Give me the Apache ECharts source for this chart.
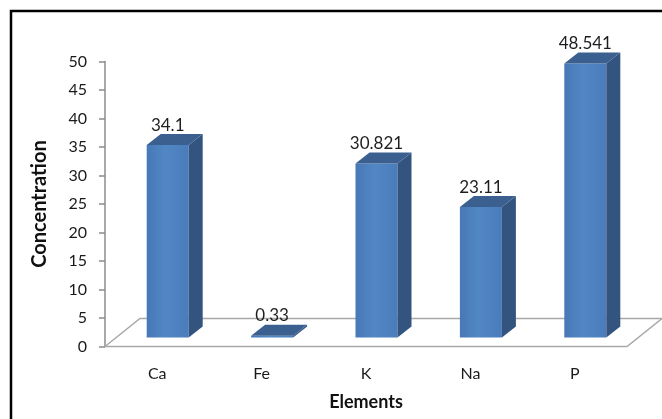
<!DOCTYPE html>
<html>
<head>
<meta charset="utf-8">
<script src="https://cdn.jsdelivr.net/npm/echarts@6/dist/echarts.min.js"></script>
<style>
  html, body { margin: 0; padding: 0; background: #fff; }
  #chart { width: 662px; height: 419px; }
</style>
</head>
<body>
<div id="chart"></div>
<script>
// Element concentrations
const elements = ['Ca', 'Fe', 'K', 'Na', 'P'];
const concentration = [34.1, 0.33, 30.821, 23.11, 48.541];
const yTicks = [0, 5, 10, 15, 20, 25, 30, 35, 40, 45, 50];

// pseudo-3D geometry (pixels)
const FLOOR_DX = 35, FLOOR_DY = -28;   // depth of the floor plane
const BAR_SHIFT_X = 10.5, BAR_SHIFT_Y = -9; // bar position inside the floor depth
const BAR_DX = 14, BAR_DY = -11;       // bar depth
const BAR_W = 42;

const FONT = 'Lato, "Noto Sans", sans-serif';
const chart = echarts.init(document.getElementById('chart'), null, { renderer: 'canvas' });

function floorItem(params, api) {
  const band = api.size([1, 0])[0];
  const p0 = api.coord([0, 0]);
  const p4 = api.coord([elements.length - 1, 0]);
  const xl = p0[0] - band / 2, xr = p4[0] + band / 2, y = p0[1];
  const style = { stroke: '#A8A8A8', lineWidth: 1.5, fill: null };
  return {
    type: 'group',
    children: [
      { type: 'polyline', shape: { points: [[xl, y], [xl + FLOOR_DX, y + FLOOR_DY], [xr + FLOOR_DX + 40, y + FLOOR_DY]] }, style: style },
      { type: 'polyline', shape: { points: [[xl, y], [xr, y], [xr + FLOOR_DX, y + FLOOR_DY]] }, style: style }
    ]
  };
}

function barItem(params, api) {
  const i = api.value(0), v = api.value(1);
  const base = api.coord([i, 0]);
  const top = api.coord([i, v]);
  const cx = base[0] + BAR_SHIFT_X;
  const yb = base[1] + BAR_SHIFT_Y;
  const yt = yb - (base[1] - top[1]) * 0.99;
  const x0 = cx - BAR_W / 2, x1 = cx + BAR_W / 2;
  return {
    type: 'group',
    children: [
      { type: 'rect', shape: { x: x0, y: yt, width: BAR_W, height: yb - yt },
        style: { fill: new echarts.graphic.LinearGradient(0, 0, 1, 0, [
          { offset: 0, color: '#4878B6' }, { offset: 0.45, color: '#5187C5' }, { offset: 1, color: '#4A7CBA' }]) } },
      { type: 'polygon', shape: { points: [[x1, yt], [x1, yb], [x1 + BAR_DX, yb + BAR_DY], [x1 + BAR_DX, yt + BAR_DY]] },
        style: { fill: '#32547F' } },
      { type: 'polygon', shape: { points: [[x0, yt], [x1, yt], [x1 + BAR_DX, yt + BAR_DY], [x0 + BAR_DX, yt + BAR_DY]] },
        style: { fill: '#3B6090' } },
      { type: 'text', x: cx, y: yt - 20,
        style: { text: String(v), fill: '#1E1E1E', font: '17px ' + FONT, align: 'center', verticalAlign: 'middle' } }
    ]
  };
}

chart.setOption({
  animation: false,
  grid: { left: 105, right: 35, top: 61.5, bottom: 72.5 },
  xAxis: {
    type: 'category',
    data: elements,
    name: 'Elements',
    nameLocation: 'middle',
    nameGap: 47,
    nameTextStyle: { fontFamily: FONT, fontWeight: 'bold', fontSize: 18, color: '#111' },
    axisLine: { show: false },
    axisTick: { show: false },
    axisLabel: { margin: 19, fontFamily: FONT, fontSize: 16, color: '#1A1A1A' }
  },
  yAxis: {
    type: 'value',
    min: yTicks[0],
    max: yTicks[yTicks.length - 1],
    interval: 5,
    name: 'Concentration',
    nameLocation: 'middle',
    nameGap: 55,
    nameTextStyle: { fontFamily: FONT, fontWeight: 'bold', fontSize: 20, color: '#111' },
    axisLine: { show: true, lineStyle: { color: '#8C8C8C', width: 1.5 } },
    axisTick: { show: true, inside: false, length: 6, lineStyle: { color: '#8C8C8C', width: 1.5 } },
    axisLabel: { margin: 18, fontFamily: FONT, fontSize: 16, color: '#1A1A1A' },
    splitLine: { show: false }
  },
  graphic: [
    { type: 'rect', shape: { x: 11, y: 11, width: 800, height: 600 },
      style: { fill: null, stroke: '#000', lineWidth: 2.5 }, z: 100 }
  ],
  series: [
    { type: 'custom', renderItem: floorItem, data: [[0, 0]], z: 1, silent: true },
    { type: 'custom', renderItem: barItem, data: concentration.map((v, i) => [i, v]), z: 2,
      encode: { x: 0, y: 1 } }
  ]
});
</script>
</body>
</html>
